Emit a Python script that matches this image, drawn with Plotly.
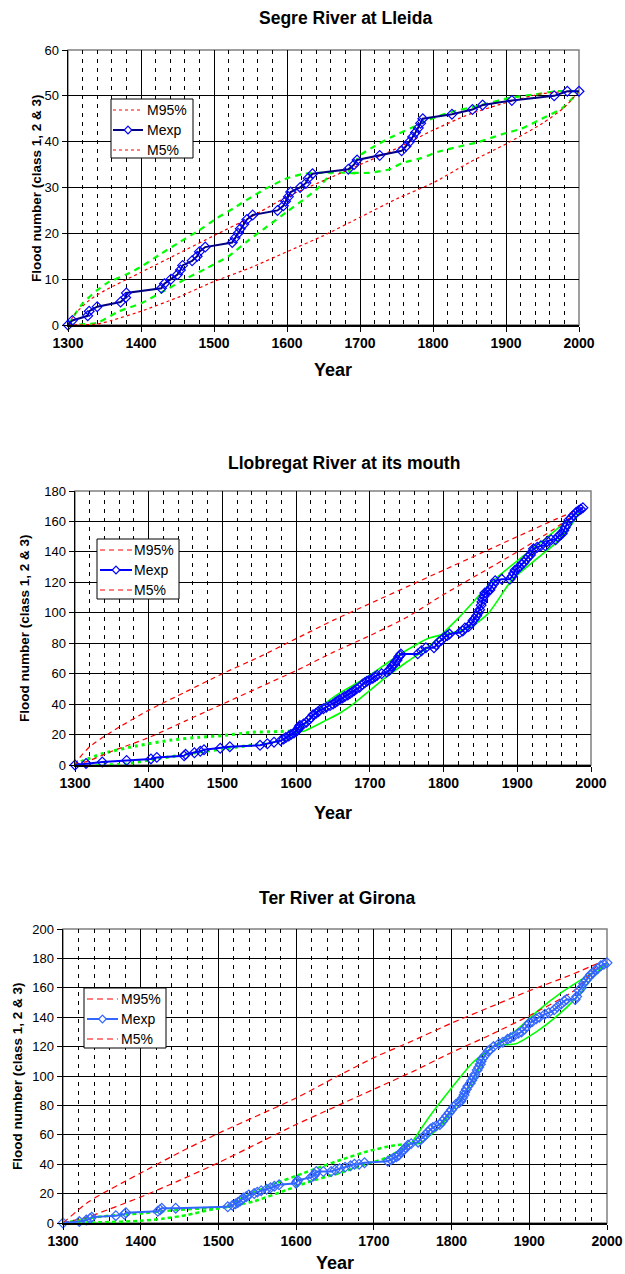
import plotly.graph_objects as go

W, H = 625, 1274
FONT = "Arial, Liberation Sans, sans-serif"

# ---------------- Panel 1: Segre River at Lleida ----------------
seg_years = [1300, 1306, 1327, 1329, 1340, 1372, 1379, 1380, 1428, 1432, 1441, 1450, 1454, 1457,
             1470, 1477, 1480, 1488, 1525, 1529, 1533, 1536, 1541, 1545, 1553, 1587, 1595, 1598,
             1602, 1605, 1618, 1626, 1629, 1635, 1684, 1692, 1696, 1727, 1757, 1763, 1768, 1772,
             1776, 1780, 1783, 1786, 1826, 1854, 1868, 1908, 1966, 1984, 2000]
seg_count = [0, 1, 2, 3, 4, 5, 6, 7, 8, 9, 10, 11, 12, 13,
             14, 15, 16, 17, 18, 19, 20, 21, 22, 23, 24, 25, 26, 27,
             28, 29, 30, 31, 32, 33, 34, 35, 36, 37, 38, 39, 40, 41,
             42, 43, 44, 45, 46, 47, 48, 49, 50, 51, 51]
seg_m95_x = [1300, 1310, 1330, 1350, 1400, 1450, 1500, 1550, 1600, 1650, 1700, 1750, 1800, 1850, 1900, 1950, 2000]
seg_m95_y = [0, 2.5, 5.5, 7.5, 11.5, 15.5, 19.5, 23.5, 28, 31.5, 35, 38.5, 42.5, 46, 48.5, 50.5, 51]
seg_m5_x = [1300, 1340, 1360, 1400, 1450, 1500, 1550, 1600, 1650, 1700, 1750, 1800, 1850, 1900, 1950, 1980, 2000]
seg_m5_y = [0, 0.2, 1, 3, 6, 9.5, 12.5, 16, 19.5, 23.5, 27.5, 31, 35.5, 39.5, 44, 47.5, 51]
seg_gA_up_x = [1300, 1320, 1340, 1355, 1380, 1400, 1425, 1450, 1477, 1504, 1527, 1545, 1568, 1600, 1623, 1642, 1683, 1697]
seg_gA_up_y = [0, 4.7, 7.6, 9.3, 11, 12.7, 15.3, 17.8, 20.4, 23.3, 25.5, 27.3, 29.5, 32, 33, 33.2, 33.2, 33]
seg_gA_lo_x = [1300, 1340, 1370, 1400, 1430, 1463, 1490, 1520, 1545, 1573, 1600, 1628, 1642, 1660]
seg_gA_lo_y = [0, 0.5, 3, 4.7, 7.3, 10.2, 12.4, 15, 18.2, 21.5, 24.7, 28, 29.8, 33]
seg_gB_up_x = [1684, 1700, 1720, 1743, 1770, 1798, 1825, 1862, 1903, 1940, 1968, 2000]
seg_gB_up_y = [33.3, 37, 39, 41, 43, 45, 46.5, 47.8, 49.5, 50.3, 51, 51]
seg_gB_lo_x = [1690, 1713, 1741, 1757, 1784, 1807, 1835, 1862, 1894, 1922, 1949, 1977, 2000]
seg_gB_lo_y = [33.2, 33.2, 34, 35.3, 36.4, 37.8, 38.9, 39.9, 41.6, 42.9, 45, 47.3, 51]

# ---------------- Panel 2: Llobregat River at its mouth ----------------
llo_years = [1300, 1315, 1337, 1370, 1403, 1411, 1448, 1450, 1462, 1470, 1475, 1497, 1510, 1551, 1561,
             1570, 1579, 1583, 1586, 1590, 1593, 1597, 1600, 1602, 1603, 1604, 1605, 1610, 1614, 1618,
             1620, 1623, 1627, 1630, 1632, 1637, 1641, 1646, 1650, 1653, 1656, 1659, 1663, 1666, 1670,
             1673, 1676, 1679, 1682, 1686, 1690, 1693, 1696, 1700, 1704, 1707, 1710, 1716, 1723, 1726,
             1728, 1730, 1733, 1735, 1737, 1739, 1741, 1742, 1765, 1770, 1776, 1787, 1790, 1794, 1797,
             1801, 1805, 1808, 1822, 1826, 1829, 1834, 1838, 1840, 1842, 1845, 1847, 1849, 1851, 1852,
             1853, 1855, 1856, 1860, 1863, 1865, 1868, 1870, 1879, 1890, 1893, 1895, 1897, 1900, 1903,
             1906, 1909, 1912, 1915, 1918, 1920, 1922, 1927, 1932, 1938, 1941, 1946, 1952, 1955, 1958,
             1961, 1963, 1965, 1967, 1970, 1973, 1976, 1980, 1983, 1986, 1989]
llo_count = [0, 1, 2, 3, 4, 5, 6, 7, 8, 9, 10, 11, 12, 13, 14,
             15, 16, 17, 18, 19, 20, 21, 22, 23, 24, 25, 26, 27, 28, 30,
             31, 33, 34, 35, 36, 37, 38, 39, 40, 41, 42, 43, 44, 45, 46,
             47, 48, 49, 50, 51, 53, 54, 55, 56, 57, 58, 59, 60, 61, 62,
             63, 65, 66, 68, 69, 71, 72, 73, 73, 75, 77, 77, 79, 81, 82,
             84, 85, 86, 87, 88, 90, 91, 93, 95, 96, 98, 100, 102, 105, 107,
             109, 111, 113, 114, 115, 117, 119, 121, 122, 122, 124, 126, 128, 129, 130,
             132, 133, 135, 137, 138, 140, 142, 143, 144, 144, 147, 148, 148, 150, 151,
             152, 154, 156, 158, 161, 162, 164, 166, 167, 168, 169]
llo_m95_x = [1300, 1305, 1320, 1350, 1400, 1450, 1500, 1550, 1600, 1650, 1700, 1750, 1800, 1850, 1900, 1950, 1989]
llo_m95_y = [0, 4, 12, 22, 36, 48, 60, 71, 83, 95, 106, 117, 128, 139, 150, 161, 169]
llo_m5_x = [1300, 1320, 1350, 1400, 1450, 1500, 1550, 1600, 1650, 1700, 1750, 1800, 1850, 1900, 1950, 1989]
llo_m5_y = [0, 3, 9, 18, 29, 40, 51, 62, 74, 85, 97, 112, 126, 140, 155, 169]
llo_g1_up_x = [1300, 1307, 1339, 1385, 1431, 1468, 1504, 1541, 1577, 1604]
llo_g1_up_y = [0, 2, 7.7, 12.7, 16.4, 18.2, 19.5, 21.5, 22, 22.6]
llo_g1_lo_x = [1300, 1337, 1369, 1401, 1437, 1474, 1501, 1538, 1577, 1591, 1604]
llo_g1_lo_y = [0, 0, 0.7, 3.3, 6, 8.8, 10.5, 13, 15.4, 17.5, 22.6]
llo_g2_up_x = [1604, 1620, 1641, 1660, 1682, 1705, 1728, 1751, 1778, 1797]
llo_g2_up_y = [22.6, 31, 41, 47.5, 53.7, 60.7, 68.5, 75.7, 83, 85.5]
llo_g2_lo_x = [1604, 1609, 1623, 1641, 1659, 1680, 1700, 1723, 1751, 1778, 1797]
llo_g2_lo_y = [22.6, 22, 25, 29.5, 34, 41, 49, 58, 68, 77, 85.5]
llo_g3_up_x = [1797, 1820, 1843, 1866, 1902, 1934, 1961, 1989]
llo_g3_up_y = [85.5, 96.5, 108.6, 120.6, 134.9, 147, 158, 169.5]
llo_g3_lo_x = [1797, 1806, 1838, 1861, 1893, 1925, 1952, 1975, 1989]
llo_g3_lo_y = [85.5, 86.2, 91, 99.8, 121.7, 134.9, 145.8, 159, 169.5]

# ---------------- Panel 3: Ter River at Girona ----------------
ter_years = [1300, 1321, 1330, 1335, 1337, 1368, 1379, 1381, 1422, 1425, 1427, 1445, 1512, 1518, 1522,
             1525, 1528, 1530, 1532, 1536, 1539, 1546, 1550, 1555, 1562, 1567, 1572, 1578, 1600, 1601,
             1602, 1619, 1622, 1624, 1626, 1635, 1645, 1650, 1656, 1663, 1670, 1675, 1681, 1688, 1718,
             1722, 1725, 1729, 1732, 1735, 1737, 1739, 1741, 1744, 1748, 1757, 1760, 1763, 1766, 1770,
             1773, 1776, 1780, 1785, 1788, 1791, 1794, 1797, 1800, 1803, 1806, 1810, 1812, 1814, 1816,
             1817, 1819, 1821, 1824, 1826, 1828, 1830, 1833, 1835, 1837, 1838, 1840, 1843, 1847, 1850,
             1854, 1861, 1866, 1872, 1876, 1880, 1886, 1890, 1894, 1897, 1900, 1904, 1909, 1913, 1920,
             1925, 1932, 1936, 1941, 1945, 1948, 1959, 1961, 1964, 1967, 1970, 1973, 1976, 1979, 1982,
             1985, 1988, 1992, 1996, 2000]
ter_count = [0, 1, 2, 3, 4, 5, 6, 7, 8, 9, 10, 10, 11, 12, 13,
             14, 15, 16, 17, 18, 19, 20, 21, 22, 23, 24, 25, 26, 27, 28,
             29, 31, 32, 33, 35, 35, 35, 36, 37, 38, 39, 40, 40, 41, 42,
             43, 44, 45, 46, 48, 49, 50, 51, 53, 54, 55, 57, 58, 60, 62,
             64, 65, 66, 67, 69, 71, 73, 75, 77, 79, 81, 82, 83, 85, 87,
             89, 91, 93, 95, 97, 99, 101, 104, 106, 108, 110, 112, 114, 117, 118,
             120, 122, 123, 125, 126, 127, 129, 130, 132, 134, 136, 137, 139, 140, 142,
             143, 145, 147, 149, 151, 152, 152, 154, 158, 160, 163, 165, 167, 169, 170,
             172, 173, 175, 176, 177]
ter_m95_x = [1300, 1334, 1400, 1450, 1500, 1550, 1600, 1650, 1700, 1750, 1800, 1850, 1900, 1950, 1990]
ter_m95_y = [0, 14.8, 34, 48, 61, 73, 85, 99, 112.5, 124, 136, 147, 158, 168, 177]
ter_m5_x = [1300, 1334, 1400, 1450, 1500, 1550, 1600, 1650, 1700, 1750, 1800, 1850, 1900, 1960, 1990]
ter_m5_y = [0, 4.5, 17.7, 29, 41, 54, 67, 79, 91, 103, 116, 128, 141, 159, 177]
ter_g1_up_x = [1300, 1320, 1350, 1400, 1450, 1500, 1512]
ter_g1_up_y = [0, 2, 4.5, 6.5, 9, 10.5, 11]
ter_g1_lo_x = [1300, 1350, 1400, 1430, 1460, 1490, 1512]
ter_g1_lo_y = [0, 0.5, 1.5, 3, 5.5, 9, 11]
ter_g2_up_x = [1512, 1527, 1564, 1610, 1656, 1693, 1725, 1748]
ter_g2_up_y = [11, 16, 25, 34, 42.7, 48.9, 52.7, 54]
ter_g2_lo_x = [1512, 1546, 1583, 1619, 1656, 1688, 1716, 1748]
ter_g2_lo_y = [11, 14.8, 21.6, 28.4, 34, 39.8, 44.3, 54]
ter_g3_up_x = [1748, 1771, 1801, 1827, 1856]
ter_g3_up_y = [54, 72, 92.5, 109, 121]
ter_g3_lo_x = [1748, 1758, 1784, 1814, 1832, 1845, 1856]
ter_g3_lo_y = [54, 54, 65, 86, 101, 116, 121]
ter_g4_up_x = [1856, 1883, 1909, 1942, 1977, 2000]
ter_g4_up_y = [121, 131, 143.5, 157, 169, 177]
ter_g4_lo_x = [1856, 1883, 1909, 1934, 1960, 1986, 2000]
ter_g4_lo_y = [121, 122, 130, 140, 153, 170, 177]

legend_labels = ["M95%", "Mexp", "M5%"]

# ---------------- Figure ----------------
fig = go.Figure()


def px_x(p):
    return p / W


def px_y(p):
    return 1 - p / H


panels = [
    dict(ax="", x0=68, x1=579, y0=50, y1=325, ymax=60, dtick=10,
         title="Segre River at Lleida", tx=345, ty=18, yx=37, yt_y=188, yearx=333, yeary=370,
         box=(111, 99, 193, 158), rows=(110, 130, 150), samp=(113, 143), textx=147,
         red_dash="dot", mline="#000080", mmark="#0000FF"),
    dict(ax="2", x0=75, x1=591, y0=491, y1=765, ymax=180, dtick=20,
         title="Llobregat River at its mouth", tx=344, ty=463, yx=24, yt_y=628, yearx=333, yeary=813,
         box=(97, 539, 179, 599), rows=(550, 570, 590), samp=(100, 132), textx=134,
         red_dash="5px,4px", mline="#0000FF", mmark="#0000FF"),
    dict(ax="3", x0=63, x1=607, y0=929, y1=1223, ymax=200, dtick=20,
         title="Ter River at Girona", tx=337, ty=898, yx=17, yt_y=1076, yearx=335, yeary=1263,
         box=(84, 988, 166, 1048), rows=(999, 1019, 1039), samp=(87, 118), textx=121,
         red_dash="6px,4px", mline="#3366FF", mmark="#3366FF"),
]

annotations = []
shapes = []
for p in panels:
    xa = "xaxis" + p["ax"]
    ya = "yaxis" + p["ax"]
    fig.layout[xa] = dict(
        domain=[px_x(p["x0"]), px_x(p["x1"])], range=[1300, 2000], anchor="y" + p["ax"],
        tick0=1300, dtick=100, showgrid=True, gridcolor="#000000", gridwidth=1,
        minor=dict(tick0=1300, dtick=20, showgrid=True, gridcolor="#000000", gridwidth=1,
                   griddash="4px,5px"),
        showline=True, linecolor="#000000", linewidth=1.5, ticks="outside", ticklen=5,
        tickcolor="#000000", tickfont=dict(family=FONT, size=14, color="#000000", weight="bold"),
        zeroline=False, fixedrange=True, automargin=False)
    fig.layout[ya] = dict(
        domain=[px_y(p["y1"]), px_y(p["y0"])], range=[0, p["ymax"]], anchor="x" + p["ax"],
        dtick=p["dtick"], showgrid=True, gridcolor="#000000", gridwidth=1,
        showline=True, linecolor="#000000", linewidth=1.5, ticks="outside", ticklen=5,
        tickcolor="#000000", tickfont=dict(family=FONT, size=13, color="#000000"),
        zeroline=False, fixedrange=True, automargin=False)
    # plot-area border (top and right in grey)
    shapes.append(dict(type="rect", xref="paper", yref="paper",
                       x0=px_x(p["x0"]), x1=px_x(p["x1"]), y0=px_y(p["y1"]), y1=px_y(p["y0"]),
                       line=dict(color="#808080", width=1.5), layer="below"))
    annotations.append(dict(text=p["title"], x=px_x(p["tx"]), y=px_y(p["ty"]), xref="paper", yref="paper",
                            showarrow=False, xanchor="center", yanchor="middle",
                            font=dict(family=FONT, size=17.5, color="#000000", weight="bold")))
    annotations.append(dict(text="Year", x=px_x(p["yearx"]), y=px_y(p["yeary"]), xref="paper", yref="paper",
                            showarrow=False, xanchor="center", yanchor="middle",
                            font=dict(family=FONT, size=18, color="#000000", weight="bold")))
    annotations.append(dict(text="Flood number (class 1, 2 & 3)", x=px_x(p["yx"]), y=px_y(p["yt_y"]),
                            xref="paper", yref="paper", textangle=-90,
                            showarrow=False, xanchor="center", yanchor="middle",
                            font=dict(family=FONT, size=13.5, color="#000000", weight="bold")))

    # ---- legend box (drawn as in the original chart) ----
    bx0, by0, bx1, by1 = p["box"]
    shapes.append(dict(type="rect", xref="paper", yref="paper",
                       x0=px_x(bx0), x1=px_x(bx1), y0=px_y(by1), y1=px_y(by0),
                       fillcolor="#FFFFFF", line=dict(color="#000000", width=1), layer="above"))
    sx0, sx1 = p["samp"]
    styles = [
        dict(color="#FF0000", width=1.2, dash=p["red_dash"]),
        dict(color=p["mline"], width=2, dash="solid"),
        dict(color="#FF0000", width=1.2, dash=p["red_dash"]),
    ]
    for ry, st, lab in zip(p["rows"], styles, legend_labels):
        shapes.append(dict(type="line", xref="paper", yref="paper",
                           x0=px_x(sx0), x1=px_x(sx1), y0=px_y(ry), y1=px_y(ry),
                           line=st, layer="above"))
        if lab == "Mexp":
            cx = (sx0 + sx1) / 2.0
            d = 3.8
            path = "M {},{} L {},{} L {},{} L {},{} Z".format(
                px_x(cx), px_y(ry - d), px_x(cx + d), px_y(ry),
                px_x(cx), px_y(ry + d), px_x(cx - d), px_y(ry))
            shapes.append(dict(type="path", xref="paper", yref="paper", path=path,
                               fillcolor="#FFFFFF", line=dict(color=p["mmark"], width=1.2), layer="above"))
        annotations.append(dict(text=lab, x=px_x(p["textx"]), y=px_y(ry), xref="paper", yref="paper",
                                showarrow=False, xanchor="left", yanchor="middle", xshift=-2,
                                font=dict(family=FONT, size=14, color="#000000")))


def green(x, y, ax, dash, width):
    fig.add_trace(go.Scatter(x=x, y=y, mode="lines", xaxis="x" + ax, yaxis="y" + ax,
                             line=dict(color="#00FF00", width=width, dash=dash, shape="spline",
                                       smoothing=0.6),
                             showlegend=False, hoverinfo="skip", cliponaxis=False))


def red(x, y, ax, name, dash):
    fig.add_trace(go.Scatter(x=x, y=y, mode="lines", name=name, xaxis="x" + ax, yaxis="y" + ax,
                             line=dict(color="#FF0000", width=1.2, dash=dash, shape="spline", smoothing=0.6),
                             showlegend=False, cliponaxis=False))


def mexp(x, y, ax, lcol, mcol):
    fig.add_trace(go.Scatter(x=x, y=y, mode="lines+markers", name="Mexp", xaxis="x" + ax, yaxis="y" + ax,
                             line=dict(color=lcol, width=2),
                             marker=dict(symbol="diamond-open", size=7.5, color=mcol,
                                         line=dict(width=1.2, color=mcol)),
                             showlegend=False, cliponaxis=False))

# Panel 1
green(seg_gA_up_x, seg_gA_up_y, "", "6px,5px", 2.2)
green(seg_gA_lo_x, seg_gA_lo_y, "", "6px,5px", 2.2)
green(seg_gB_up_x, seg_gB_up_y, "", "6px,5px", 2.2)
green(seg_gB_lo_x, seg_gB_lo_y, "", "6px,5px", 2.2)
red(seg_m95_x, seg_m95_y, "", "M95%", "dot")
red(seg_m5_x, seg_m5_y, "", "M5%", "dot")
mexp(seg_years, seg_count, "", "#000080", "#0000FF")

# Panel 2
green(llo_g1_up_x, llo_g1_up_y, "2", "3px,4px", 3)
green(llo_g1_lo_x, llo_g1_lo_y, "2", "3px,4px", 3)
green(llo_g2_up_x, llo_g2_up_y, "2", "solid", 1.6)
green(llo_g2_lo_x, llo_g2_lo_y, "2", "solid", 1.6)
green(llo_g3_up_x, llo_g3_up_y, "2", "solid", 1.6)
green(llo_g3_lo_x, llo_g3_lo_y, "2", "solid", 1.6)
red(llo_m95_x, llo_m95_y, "2", "M95%", "5px,4px")
red(llo_m5_x, llo_m5_y, "2", "M5%", "5px,4px")
mexp(llo_years, llo_count, "2", "#0000FF", "#0000FF")

# Panel 3
green(ter_g1_up_x, ter_g1_up_y, "3", "4px,3px", 2.5)
green(ter_g1_lo_x, ter_g1_lo_y, "3", "4px,3px", 2.5)
green(ter_g2_up_x, ter_g2_up_y, "3", "4px,3px", 2.5)
green(ter_g2_lo_x, ter_g2_lo_y, "3", "4px,3px", 2.5)
green(ter_g3_up_x, ter_g3_up_y, "3", "solid", 1.6)
green(ter_g3_lo_x, ter_g3_lo_y, "3", "solid", 1.6)
green(ter_g4_up_x, ter_g4_up_y, "3", "solid", 1.6)
green(ter_g4_lo_x, ter_g4_lo_y, "3", "solid", 1.6)
red(ter_m95_x, ter_m95_y, "3", "M95%", "6px,4px")
red(ter_m5_x, ter_m5_y, "3", "M5%", "6px,4px")
mexp(ter_years, ter_count, "3", "#3366FF", "#3366FF")

fig.update_layout(width=W, height=H, margin=dict(l=0, r=0, t=0, b=0, autoexpand=False),
                  paper_bgcolor="#FFFFFF", plot_bgcolor="#FFFFFF",
                  annotations=annotations, shapes=shapes, showlegend=False,
                  font=dict(family=FONT, color="#000000"))

fig.write_html("out.html",
               config={"displayModeBar": False, "staticPlot": True},
               post_script="document.body.style.margin='0px';document.body.style.overflow='hidden';")
